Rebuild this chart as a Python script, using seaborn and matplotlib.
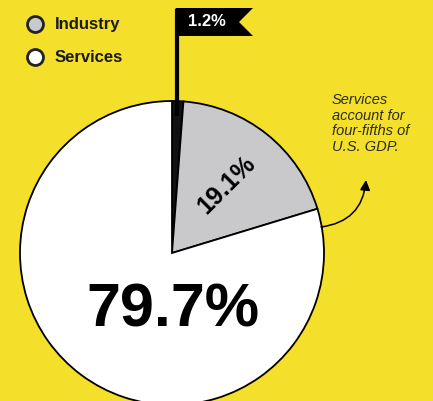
import numpy as np
import matplotlib
matplotlib.use("Agg")
import matplotlib.pyplot as plt
from matplotlib.patches import Polygon
import seaborn as sns

# ---- data ----
sectors = ["Agriculture", "Industry", "Services"]
shares = [1.2, 19.1, 79.7]
share_labels = ["1.2%", "19.1%", "79.7%"]
legend_items = ["Industry", "Services"]
note = "Services\naccount for\nfour-fifths of\nU.S. GDP."

# ---- style ----
sns.set_theme(style="white")
plt.rcParams["font.family"] = ["Liberation Sans", "DejaVu Sans"]
BG = "#F4DF2B"
colors = ["#111111", "#C9C9CB", "#FFFFFF"]

W, H = 433, 401
fig = plt.figure(figsize=(W / 100, H / 100), dpi=100, facecolor=BG)
ax = fig.add_axes([0, 0, 1, 1])
ax.set_facecolor(BG)

def Y(p):
    return H - p

cx, cy, R = 172, Y(253), 152
wedges, _ = ax.pie(shares, colors=colors, startangle=90, counterclock=False,
                   center=(cx, cy), radius=R,
                   wedgeprops=dict(edgecolor="black", linewidth=1.3))
ax.set_xlim(0, W)
ax.set_ylim(0, H)
ax.set_aspect("equal")
ax.axis("off")

# angles
start = 90.0
bounds = [start]
for s in shares:
    bounds.append(bounds[-1] - 360 * s / sum(shares))

# flag for the smallest slice
mid0 = np.deg2rad((bounds[0] + bounds[1]) / 2)
px = cx + R * np.cos(mid0) * 0.9
ax.plot([px, px], [cy + R * 0.9, Y(9)], color="black", lw=3, solid_capstyle="butt", zorder=5)
flag = Polygon([(px - 1.5, Y(8)), (253, Y(8)), (239, Y(22)), (253, Y(36)), (px - 1.5, Y(36))],
               closed=True, facecolor="black", edgecolor="none", zorder=5)
ax.add_patch(flag)
ax.text(207, Y(22), share_labels[0], color="white", fontsize=12, fontweight="bold",
        ha="center", va="center", zorder=6)

# industry label
mid1 = np.deg2rad((bounds[1] + bounds[2]) / 2)
ax.text(cx + 0.57 * R * np.cos(mid1), cy + 0.57 * R * np.sin(mid1), share_labels[1],
        fontsize=18, fontweight="bold", rotation=45, ha="center", va="center",
        rotation_mode="anchor", color="black")

# services label
ax.text(cx + 1, cy - 0.38 * R, share_labels[2], fontsize=44, fontweight="bold",
        ha="center", va="center", color="black")

# legend (visible part)
for i, (name, yy) in enumerate(zip(legend_items, [24, 57])):
    ax.plot(35, Y(yy), marker="o", markersize=11.5, markerfacecolor=colors[i + 1],
            markeredgecolor="#222222", markeredgewidth=2, clip_on=False)
    ax.text(55, Y(yy), name, fontsize=12, fontweight="bold", ha="left", va="center",
            color="#1a1a1a")

# note and arrow
ax.text(332, Y(93), note, fontsize=10.5, fontstyle="italic", ha="left", va="top",
        linespacing=1.15, color="#2b2b20")
ax.annotate("", xy=(366, Y(180)), xytext=(321, Y(227)),
            arrowprops=dict(arrowstyle="-|>", color="black", lw=1.1,
                            connectionstyle="arc3,rad=0.4", mutation_scale=15,
                            shrinkA=0, shrinkB=0))

fig.savefig("out.png", dpi=100, facecolor=BG)
